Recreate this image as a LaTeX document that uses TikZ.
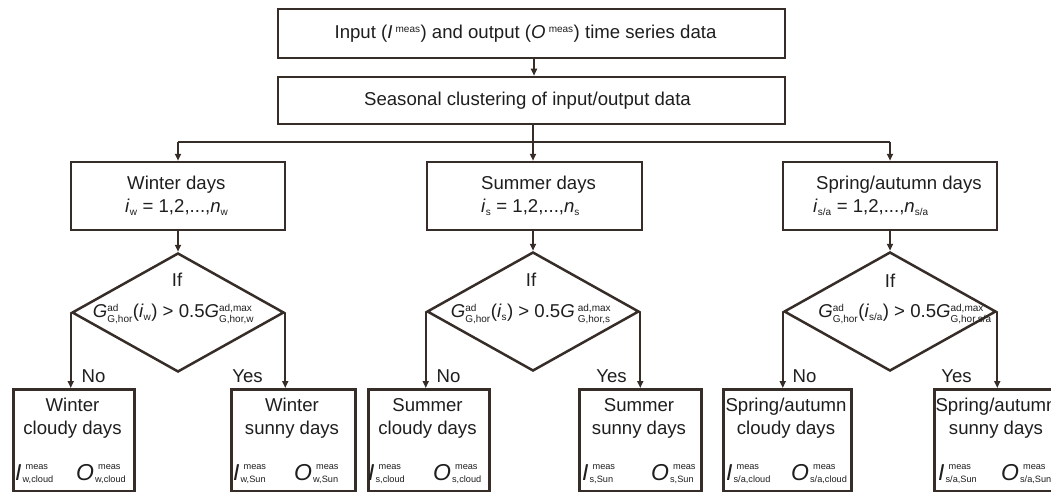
\documentclass[tikz,border=0pt]{standalone}
\usepackage{fontspec}
\setmainfont{Liberation Sans}
\usetikzlibrary{arrows.meta,shapes.geometric}
\definecolor{ln}{RGB}{55,45,40}
\definecolor{tx}{RGB}{30,30,30}
\newcommand\sm[1]{\mbox{\fontsize{10}{10}\selectfont #1}}
\newcommand\smb[1]{\mbox{\fontsize{9.2}{9.2}\selectfont #1}}
\newcommand\io[3]{{\fontsize{23}{23}\selectfont\itshape #1}\hspace{1pt}\rlap{\raisebox{11pt}{\hspace{3pt}\smb{#2}}}\raisebox{-2pt}{\smb{#3}}}
\begin{document}
\begin{tikzpicture}[x=1pt,y=-1pt,
  font=\fontsize{18.6}{23}\selectfont, text=tx,
  box/.style={draw=ln, line width=2.5pt, inner sep=0pt},
  dia/.style={draw=ln, line width=2.5pt, diamond, inner sep=0pt, minimum width=212pt, minimum height=119pt},
  con/.style={draw=ln, line width=2pt},
  arr/.style={con, -{Triangle[length=7pt,width=6pt]}},
  lbl/.style={inner sep=0pt},
  iol/.style={inner sep=0pt, anchor=base west}]
\clip (0,0) rectangle (1051,492);
% top boxes
\node[box, minimum width=507pt, minimum height=49pt] (top) at (531.5,33.5) {};
\node[lbl] (toptxt) at (525.5,33.5) {Input (\textit{I}\,$^{\sm{meas}}$) and output (\textit{O}\,$^{\sm{meas}}$) time series data};
\node[box, minimum width=507pt, minimum height=47pt] (clus) at (531.5,100.5) {};
\node[lbl] (clustxt) at (527.5,100.5) {Seasonal clustering of input/output data};
% category boxes
\node[box, minimum width=214pt, minimum height=68pt] (win) at (178,196) {};
\node[box, minimum width=215pt, minimum height=68pt] (sum) at (534.5,196) {};
\node[box, minimum width=214pt, minimum height=68pt] (spr) at (890,196) {};
\node[lbl, anchor=west, align=left] (wintxt) at (125,196) {\hspace{2pt}Winter days\\\textit{i}$_{\sm{w}}$ = 1,2,...,\textit{n}$_{\sm{w}}$};
\node[lbl, anchor=west, align=left] (sumtxt) at (481,196) {Summer days\\\textit{i}$_{\sm{s}}$ = 1,2,...,\textit{n}$_{\sm{s}}$};
\node[lbl, anchor=west, align=left] (sprtxt) at (813,196) {\hspace{3pt}Spring/autumn days\\\textit{i}$_{\sm{s/a}}$ = 1,2,...,\textit{n}$_{\sm{s/a}}$};
% diamonds
\node[dia] (dw) at (178,312.5) {};
\node[dia] (ds) at (533,311.5) {};
\node[dia] (da) at (890,311.5) {};
\node[lbl] (ifw) at (177,279.5) {If};
\node[lbl] (ifs) at (531,279.5) {If};
\node[lbl] (ifa) at (890,280.5) {If};
\node[lbl] (fw) at (173.5,314) {\textit{G}$^{\sm{ad}}_{\sm{G,hor}}$(\textit{i}$_{\sm{w}}$) > 0.5\textit{G}$^{\sm{ad,max}}_{\sm{G,hor,w}}$};
\node[lbl] (fs) at (531,314) {\textit{G}$^{\sm{ad}}_{\sm{G,hor}}$(\textit{i}$_{\sm{s}}$) > 0.5\textit{G}\,$^{\sm{ad,max}}_{\sm{G,hor,s}}$};
\node[lbl] (fa) at (905,314) {\textit{G}$^{\sm{ad}}_{\sm{G,hor}}$(\textit{i}$_{\sm{s/a}}$) > 0.5\textit{G}$^{\sm{ad,max}}_{\sm{G,hor,s/a}}$};
% bottom boxes
\node[box, anchor=north west, minimum width=121pt, minimum height=102pt] (wc) at (12,388) {};
\node[box, anchor=north west, minimum width=124pt, minimum height=102pt] (ws) at (230,388) {};
\node[box, anchor=north west, minimum width=121pt, minimum height=102pt] (sc) at (367,388) {};
\node[box, anchor=north west, minimum width=122pt, minimum height=102pt] (ss) at (578,388) {};
\node[box, anchor=north west, minimum width=128pt, minimum height=102pt] (ac) at (722,388) {};
\node[box, anchor=north west, minimum width=126pt, minimum height=102pt] (as) at (933,388) {};
\node[lbl, align=center] (wct) at (72.5,418.5) {Winter\\cloudy days};
\node[lbl, align=center] (wst) at (292,418.5) {Winter\\sunny days};
\node[lbl, align=center] (sct) at (427.5,418.5) {Summer\\cloudy days};
\node[lbl, align=center] (sst) at (639,418.5) {Summer\\sunny days};
\node[lbl, align=center] (act) at (786,418.5) {Spring/autumn\\cloudy days};
\node[lbl, align=center] (ast) at (996,418.5) {Spring/autumn\\sunny days};
% I/O labels
\node[iol] (wci) at (15,480.5) {\io{I}{meas}{w,cloud}};
\node[iol] (wco) at (76,480.5) {\io{O}{meas}{w,cloud}};
\node[iol] (wsi) at (233,480.5) {\io{I}{meas}{w,Sun}};
\node[iol] (wso) at (294,480.5) {\io{O}{meas}{w,Sun}};
\node[iol] (sci) at (368,480.5) {\io{I}{meas}{s,cloud}};
\node[iol] (sco) at (433,480.5) {\io{O}{meas}{s,cloud}};
\node[iol] (ssi) at (582,480.5) {\io{I}{meas}{s,Sun}};
\node[iol] (sso) at (651,480.5) {\io{O}{meas}{s,Sun}};
\node[iol] (aci) at (726,480.5) {\io{I}{meas}{s/a,cloud}};
\node[iol] (aco) at (791,480.5) {\io{O}{meas}{s/a,cloud}};
\node[iol] (asi) at (938,480.5) {\io{I}{meas}{s/a,Sun}};
\node[iol] (aso) at (1001,480.5) {\io{O}{meas}{s/a,Sun}};
% connectors
\draw[arr] (top.south -| 534,0) -- (clus.north -| 534,0);
\coordinate (bw) at (178,142);
\coordinate (bm) at (533,142);
\coordinate (ba) at (890,142);
\draw[con] (clus.south -| bm) -- (bm);
\draw[con] (bw) -- (ba);
\draw[arr] (bw) -- (win.north -| bw);
\draw[arr] (bm) -- (sum.north -| bm);
\draw[arr] (ba) -- (spr.north -| ba);
\draw[arr] (win.south -| dw) -- (dw.north);
\draw[arr] (sum.south -| ds) -- (ds.north);
\draw[arr] (spr.south -| da) -- (da.north);
\draw[arr] (dw.west) -- (dw.west |- wc.north);
\draw[arr] (dw.east) -- (dw.east |- ws.north);
\draw[arr] (ds.west) -- (ds.west |- sc.north);
\draw[arr] (ds.east) -- (ds.east |- ss.north);
\draw[arr] (da.west) -- (da.west |- ac.north);
\draw[arr] (da.east) -- (da.east |- as.north);
% No / Yes
\node[lbl] (nw) at (93.5,376) {No};
\node[lbl] (yw) at (247.5,376) {Yes};
\node[lbl] (ns) at (448.5,376) {No};
\node[lbl] (ys) at (611.5,376) {Yes};
\node[lbl] (na) at (804.5,376) {No};
\node[lbl] (ya) at (956.5,376) {Yes};
\end{tikzpicture}
\end{document}
